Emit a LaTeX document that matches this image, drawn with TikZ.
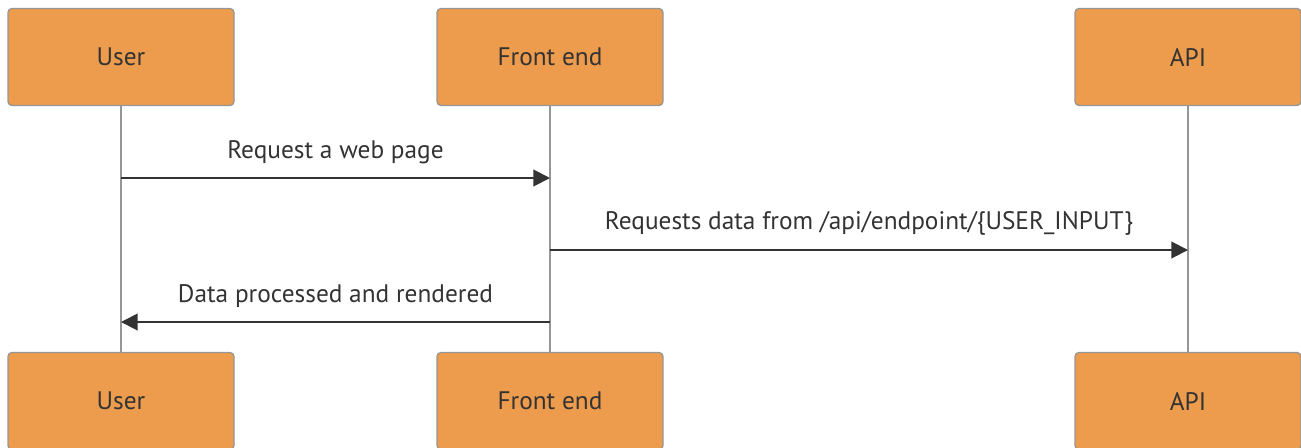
\documentclass[tikz,border=0pt]{standalone}
\usepackage{fontspec}
\setmainfont{PT Sans}
\usetikzlibrary{arrows.meta}
\definecolor{actororange}{RGB}{236,156,76}
\definecolor{actorgray}{RGB}{150,150,150}
\definecolor{msgdark}{RGB}{51,51,51}

\begin{document}
\begin{tikzpicture}[x=0.75pt,y=-0.75pt]

%
% Styles
%
\tikzstyle{actor}   = [rectangle,rounded corners=3pt,draw=actorgray,fill=actororange,line width=1pt,
                       minimum width=169.5pt,minimum height=72.75pt,inner sep=0pt,
                       text=msgdark,font=\fontsize{19}{21}\selectfont]
\tikzstyle{life}    = [draw=actorgray,line width=2pt]
\tikzstyle{msg}     = [-{Triangle[length=12.5pt,width=12.5pt]},draw=msgdark,line width=1.5pt]
\tikzstyle{msglabel}= [text=msgdark,font=\fontsize{19}{21}\selectfont,inner sep=0pt]

\useasboundingbox (0,0) rectangle (1301,447);
\clip (0,0) rectangle (1301,447);

\node[actor] (usertop)  at (121,57)  {User};
\node[actor] (fronttop) at (550,57)  {Front end};
\node[actor] (apitop)   at (1188,57) {API};

\node[actor] (userbot)  at (121,401)  {User};
\node[actor] (frontbot) at (550,401)  {Front end};
\node[actor] (apibot)   at (1188,401) {API};

\draw[life] (usertop)  -- (userbot);
\draw[life] (fronttop) -- (frontbot);
\draw[life] (apitop)   -- (apibot);

% message heights
\coordinate (m1) at (0,178);
\coordinate (m2) at (0,250);
\coordinate (m3) at (0,322);

\draw[msg] (usertop |- m1) -- (fronttop |- m1)
  node[msglabel,midway,above=10pt] {Request a web page};
\draw[msg] (fronttop |- m2) -- (apitop |- m2)
  node[msglabel,midway,above=10pt] {Requests data from /api/endpoint/\{USER\_INPUT\}};
\draw[msg] (fronttop |- m3) -- (usertop |- m3)
  node[msglabel,midway,above=10pt] {Data processed and rendered};

\end{tikzpicture}
\end{document}
